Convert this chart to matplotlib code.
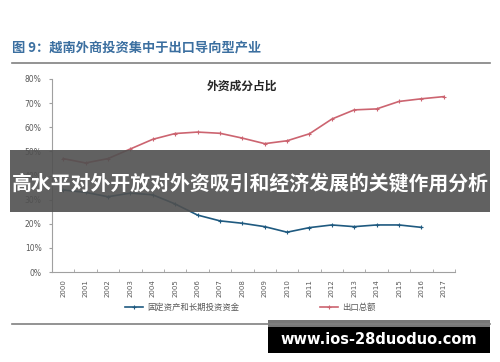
import matplotlib
matplotlib.use("Agg")
import matplotlib.pyplot as plt
from matplotlib.patches import Rectangle
from matplotlib.lines import Line2D

plt.rcParams['font.family'] = ['Noto Sans CJK SC', 'DejaVu Sans']

years = [str(y) for y in range(2000, 2018)]
export_share = [47, 45.2, 47, 51, 55, 57.4, 58, 57.5, 55.5, 53.2, 54.4, 57.3, 63.4, 67.2, 67.6, 70.7, 71.8, 72.7]
fixed_asset_share = [34, 33, 31.2, 32.7, 32, 28.2, 23.6, 21.2, 20.2, 18.8, 16.5, 18.4, 19.5, 18.8, 19.5, 19.5, 18.5]
yticks = [0, 10, 20, 30, 40, 50, 60, 70, 80]
ytick_labels = [f"{v}%" for v in yticks]
label_fixed = "固定资产和长期投资资金"
label_export = "出口总额"
fig_title = "图 9：越南外商投资集中于出口导向型产业"
inner_title = "外资成分占比"
banner_text = "高水平对外开放对外资吸引和经济发展的关键作用分析"
watermark = "www.ios-28duoduo.com"

W, H = 500, 362
fig = plt.figure(figsize=(W / 100, H / 100), dpi=100)
fig.patch.set_facecolor("white")

def fx(x):
    return x / W

def fy(y):
    return 1 - y / H

ax = fig.add_axes([fx(52), fy(272), fx(455) - fx(52), fy(79) - fy(272)])
xs = list(range(len(years)))
blue = "#1f5a80"
red = "#cc6470"
ax.plot(xs[:len(fixed_asset_share)], fixed_asset_share, color=blue, lw=1.2,
        marker="+", ms=3, mew=0.8, label=label_fixed)
ax.plot(xs, export_share, color=red, lw=1.2, marker="+", ms=3, mew=0.8, label=label_export)
ax.set_xlim(-0.5, len(years) - 0.5)
ax.set_ylim(0, 80)
ax.set_yticks(yticks)
ax.set_yticklabels(ytick_labels, fontsize=5.5, color="#595959", family="DejaVu Sans")
ax.set_xticks(xs)
ax.set_xticklabels(years, rotation=90, fontsize=5, color="#595959", family="DejaVu Sans")
ax.tick_params(axis="x", length=0, pad=5)
ax.set_xticks([i + 0.5 for i in range(-1, len(years))], minor=True)
ax.tick_params(axis="x", which="minor", direction="in", length=2.5, color="#a0a0a0")
ax.tick_params(axis="y", direction="out", length=2.5, color="#a0a0a0", pad=5)
for s in ["top", "right"]:
    ax.spines[s].set_visible(False)
for s in ["left", "bottom"]:
    ax.spines[s].set_color("#a0a0a0")
    ax.spines[s].set_linewidth(0.8)

fig.text(fx(242), fy(86), inner_title, ha="center", va="center", fontsize=8.5,
         fontweight="bold", color="#262626")

leg = fig.legend(loc="center left", bbox_to_anchor=(fx(125), fy(307)), ncol=2,
                 frameon=False, fontsize=6, handlelength=2.2, handletextpad=0.5,
                 columnspacing=9.6, borderpad=0, borderaxespad=0)
for t in leg.get_texts():
    t.set_color("#595959")

# title and separators
fig.text(fx(12), fy(47), fig_title, ha="left", va="center", fontsize=9.5,
         fontweight="bold", color="#3b6fa0")
fig.add_artist(Line2D([fx(12), fx(490)], [fy(63), fy(63)], color="#808080", lw=1.2))
fig.add_artist(Line2D([fx(12), fx(490)], [fy(324), fy(324)], color="#808080", lw=1.2))

# banner overlay
fig.add_artist(Rectangle((fx(10), fy(212)), fx(490) - fx(10), fy(150) - fy(212),
                         transform=fig.transFigure, facecolor="#505050", alpha=0.9,
                         edgecolor="none"))
fig.text(fx(250), fy(183), banner_text, ha="center", va="center", fontsize=14.3,
         fontweight="bold", color="white")

# watermark
fig.add_artist(Rectangle((fx(268), fy(327)), fx(490) - fx(268), fy(320) - fy(327),
                         transform=fig.transFigure, facecolor="#777777", edgecolor="none"))
fig.add_artist(Rectangle((fx(268), fy(353)), fx(490) - fx(268), fy(327) - fy(353),
                         transform=fig.transFigure, facecolor="black", edgecolor="none"))
fig.text(fx(379), fy(339), watermark, ha="center", va="center", fontsize=10.5,
         fontweight="bold", color="white", family="DejaVu Sans")

fig.savefig("out.png", dpi=100)
